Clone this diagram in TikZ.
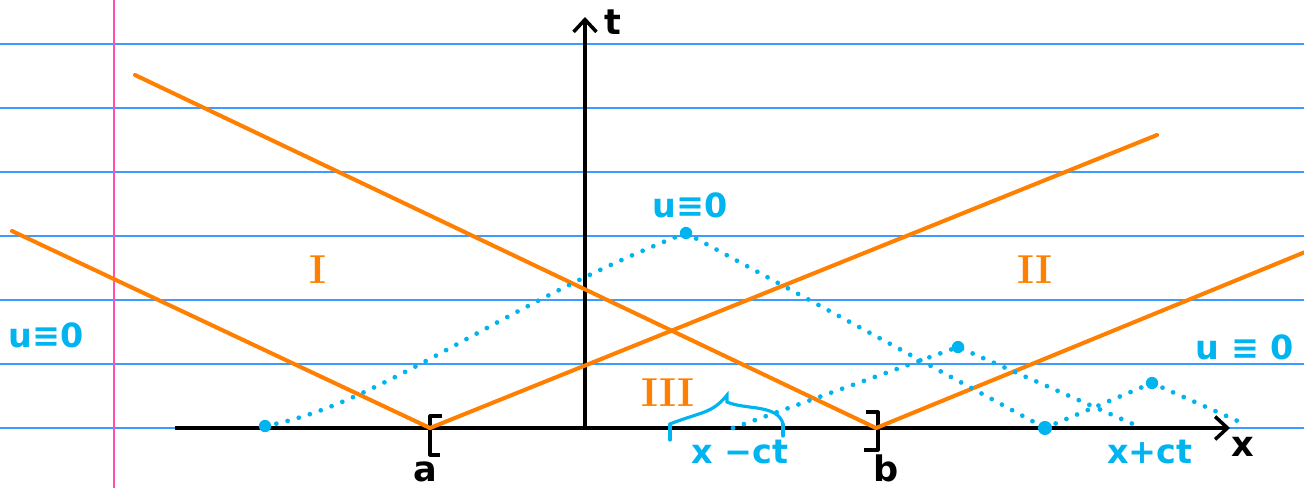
\documentclass[tikz,border=0pt]{standalone}
\usepackage{fontspec}
\setmainfont{DejaVu Sans}
\newfontfamily\romanfont{Latin Modern Roman}
\usetikzlibrary{arrows.meta,positioning,calc}
\definecolor{ruleblue}{HTML}{3D9BFF}
\definecolor{marginpink}{HTML}{FF4FB0}
\definecolor{charorange}{HTML}{FF8000}
\definecolor{traceblue}{HTML}{00B4F0}
\tikzset{
  ruleline/.style={draw=ruleblue, line width=0.8pt},
  marginline/.style={draw=marginpink, line width=0.9pt},
  axis/.style={line width=2pt, -{Straight Barb[length=7pt,width=13pt,line width=2pt]}},
  charline/.style={draw=charorange, line width=2.3pt, line cap=round},
  trace/.style={draw=traceblue, line width=2.7pt, line cap=round,
    dash pattern=on 0pt off 6.6pt},
  dotmark/.style={circle, fill=traceblue, inner sep=0pt, minimum size=7pt},
  region/.style={text=charorange, font=\romanfont\bfseries\fontsize{23}{25}\selectfont, inner sep=0pt},
  note/.style={text=traceblue, font=\bfseries\fontsize{19}{22}\selectfont, inner sep=0pt},
  axlabel/.style={font=\bfseries\fontsize{20}{22}\selectfont, inner sep=0pt},
  brack/.style={line width=1.8pt, line join=round},
  bracebit/.style={draw=traceblue, line width=1.8pt, line cap=round}
}

\begin{document}
\begin{tikzpicture}[x=0.02cm, y=-0.02cm]
\useasboundingbox (0,0) rectangle (1304,488);

% Ruled paper
\foreach \y in {44,108,...,428}
  \draw[ruleline] (0,\y) -- (1304,\y);
\draw[marginline] (114,0) -- (114,488);

% Axes
\coordinate (O) at (585,428);
\coordinate (xstart) at (175,428);
\coordinate (xend) at (1230,428);
\coordinate (tend) at (585,17);
\coordinate (a) at (430,428);
\coordinate (b) at (876,428);
\draw[axis] (xstart) -- (xend);
\draw[axis] (O) -- (tend);
\node[axlabel] (tlab) at (613,22) {t};
\node[axlabel] (xlab) at (1243,447) {x};
\node[axlabel] (alab) at (425,472) {a};
\node[axlabel] (blab) at (886,468) {b};

% Brackets
\draw[brack] ($(a)+(12,-12)$) -| ($(a)+(0,27)$) -- ++(10,0);
\draw[brack] ($(b)+(-10,-16)$) -| ($(b)+(2,22)$) -- ++(-14,0);

% Characteristics
\coordinate (lowleft) at (12,231);
\coordinate (upleft) at (135,75);
\coordinate (upright) at (1157,135);
\coordinate (lowright) at (1310,250);
\draw[charline] (lowleft) -- (a);
\draw[charline] (upleft) -- (b);
\draw[charline] (a) -- (upright);
\draw[charline] (b) -- (lowright);

\node[region] (reg1) at (318,270) {I};
\node[region] (reg2) at (1035,270) {II};
\node[region] (reg3) at (668,393) {III};

% Support traces
\node[dotmark] (p0) at (265,426) {};
\node[dotmark] (p1) at (686,233) {};
\node[dotmark] (p2) at (958,347) {};
\node[dotmark] (p3) at (1152,383) {};
\node[dotmark, minimum size=8pt] (q0) at (1045,428) {};
\coordinate (s0) at (733,428);
\coordinate (s1) at (1133,424);
\coordinate (s2) at (1240,422);
\draw[trace] (p0.center) .. controls (380,405) and (500,305) .. (p1.center);
\draw[trace] (p1.center) -- (q0.center);
\draw[trace] (s0) -- (p2.center) -- (s1);
\draw[trace] (q0.center) -- (p3.center) -- (s2);

% Interval brace
\coordinate (bl) at (670,424);
\coordinate (br) at (783,424);
\coordinate (bpk) at (727,395);
\draw[bracebit] (bl) -- ++(0,16);
\draw[bracebit] (br) -- ++(0,12);
\draw[bracebit] (bl) .. controls (700,412) and (712,414) .. (bpk) -- ++(0,7)
  .. controls (745,410) and (778,404) .. (br);

% Labels
\node[note] (u1) at (46,335) {u≡0};
\node[note] (u2) at (690,205) {u≡0};
\node[note] (u3) at (1245,347) {u ≡ 0};
\node[note] (minus) at (740,452) {x −ct};
\node[note] (plus) at (1150,452) {x+ct};

\end{tikzpicture}
\end{document}
